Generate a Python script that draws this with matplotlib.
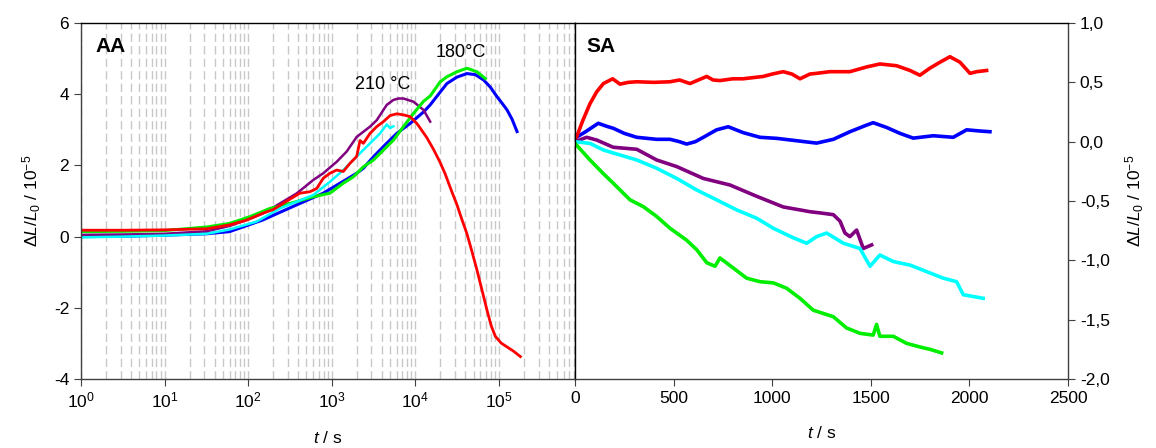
import matplotlib
matplotlib.use("Agg")
import matplotlib.pyplot as plt
from matplotlib.ticker import FixedLocator, FuncFormatter, LogLocator, NullFormatter

plt.rcParams['font.family'] = ['Liberation Sans', 'DejaVu Sans']
plt.rcParams['mathtext.fontset'] = 'custom'
plt.rcParams['mathtext.rm'] = 'Liberation Sans'
plt.rcParams['mathtext.it'] = 'Liberation Sans:italic'
plt.rcParams['mathtext.bf'] = 'Liberation Sans:bold'
plt.rcParams['axes.unicode_minus'] = False

# --- AA (isothermal ageing, log time) ---
aa_red_t = [1, 3.2, 10, 32, 60, 95, 151, 200, 316, 417, 550, 661, 794, 955, 1148, 1380,
            1660, 1995, 2188, 2399, 2884, 3467, 4169, 5012, 6026, 7244, 8710, 10470, 11480,
            13800, 16600, 19950, 22900, 26900, 31600, 36300, 41700, 47900, 55000, 63100,
            72400, 81300, 91200, 107000, 126000, 151000, 182000]
aa_red_v = [0.18, 0.18, 0.19, 0.22, 0.33, 0.46, 0.66, 0.76, 1.05, 1.22, 1.26, 1.35, 1.64, 1.78,
            1.87, 1.83, 2.06, 2.25, 2.70, 2.62, 2.90, 3.09, 3.23, 3.40, 3.45, 3.42, 3.37, 3.18,
            3.05, 2.78, 2.45, 2.08, 1.76, 1.32, 0.90, 0.48, 0.08, -0.42, -0.94, -1.50, -2.06,
            -2.50, -2.80, -2.99, -3.10, -3.22, -3.37]

aa_purple_t = [1, 3.2, 10, 32, 60, 105, 151, 240, 380, 603, 794, 1148, 1514, 1995, 2884,
               3467, 4571, 5495, 6310, 7244, 9550, 12590, 15140]
aa_purple_v = [0.05, 0.06, 0.08, 0.15, 0.30, 0.50, 0.65, 0.93, 1.21, 1.59, 1.78, 2.10, 2.39,
               2.80, 3.09, 3.27, 3.70, 3.84, 3.88, 3.88, 3.79, 3.56, 3.23]

aa_green_t = [1, 3.2, 10, 32, 60, 105, 182, 316, 603, 955, 1380, 1820, 2399, 3162, 4169,
              5495, 7244, 9550, 12590, 15140, 19950, 23990, 31620, 41690, 54950, 69180]
aa_green_v = [0.14, 0.15, 0.17, 0.27, 0.37, 0.56, 0.79, 0.93, 1.12, 1.22, 1.50, 1.68, 1.96,
              2.15, 2.43, 2.71, 3.09, 3.46, 3.80, 3.95, 4.35, 4.49, 4.63, 4.73, 4.63, 4.44]

aa_blue_t = [1, 3.2, 10, 32, 60, 151, 380, 794, 1259, 1995, 2399, 3162, 4169, 6026, 8710,
             12590, 15140, 23990, 31620, 41690, 52480, 66070, 79430, 95500, 109600, 125900,
             144500, 166000]
aa_blue_v = [0.00, 0.01, 0.04, 0.08, 0.14, 0.47, 0.89, 1.22, 1.50, 1.78, 1.92, 2.24, 2.53,
             2.90, 3.18, 3.50, 3.70, 4.30, 4.48, 4.58, 4.55, 4.40, 4.20, 3.93, 3.75, 3.56,
             3.30, 2.95]

aa_cyan_t = [1, 3.2, 10, 32, 60, 126, 240, 380, 603, 955, 1380, 1995, 2884, 3802, 4571,
             5012, 5495]
aa_cyan_v = [-0.02, 0.00, 0.03, 0.08, 0.20, 0.42, 0.79, 0.98, 1.17, 1.54, 1.87, 2.25, 2.62,
             2.90, 3.15, 3.05, 3.10]

# --- SA (linear time) ---
sa_red_t = [0, 8, 40, 76, 110, 144, 191, 228, 270, 313, 400, 482, 530, 583, 668, 700, 735,
            800, 852, 955, 1000, 1056, 1100, 1141, 1191, 1225, 1293, 1394, 1479, 1546, 1631,
            1699, 1749, 1800, 1851, 1901, 1952, 2003, 2037, 2087]
sa_red_v = [0.02, 0.04, 0.18, 0.32, 0.42, 0.49, 0.53, 0.485, 0.50, 0.505, 0.50, 0.505, 0.52,
            0.49, 0.55, 0.52, 0.515, 0.53, 0.53, 0.55, 0.57, 0.59, 0.57, 0.53, 0.57, 0.576,
            0.59, 0.59, 0.63, 0.655, 0.64, 0.60, 0.56, 0.62, 0.67, 0.716, 0.67, 0.576, 0.59,
            0.60]

sa_blue_t = [0, 50, 118, 160, 194, 250, 313, 414, 482, 530, 566, 610, 651, 718, 777, 853,
             938, 1023, 1124, 1225, 1310, 1394, 1479, 1512, 1580, 1648, 1715, 1817, 1918,
             1986, 2053, 2104]
sa_blue_v = [0.03, 0.08, 0.155, 0.13, 0.113, 0.07, 0.037, 0.02, 0.02, 0.0, -0.02, 0.0, 0.037,
             0.10, 0.126, 0.076, 0.037, 0.028, 0.008, -0.012, 0.02, 0.084, 0.14, 0.16, 0.12,
             0.07, 0.03, 0.05, 0.037, 0.10, 0.09, 0.084]

sa_purple_t = [0, 59, 110, 194, 313, 414, 516, 651, 786, 921, 1056, 1141, 1191, 1242, 1310,
               1344, 1369, 1394, 1428, 1462, 1504]
sa_purple_v = [0.0, 0.037, 0.014, -0.047, -0.064, -0.154, -0.21, -0.31, -0.365, -0.46, -0.55,
               -0.575, -0.59, -0.60, -0.615, -0.67, -0.77, -0.80, -0.745, -0.90, -0.87]

sa_cyan_t = [0, 76, 144, 228, 313, 414, 516, 617, 718, 820, 921, 1006, 1107, 1175, 1225,
             1276, 1361, 1445, 1496, 1546, 1614, 1699, 1783, 1867, 1935, 1969, 2020, 2070]
sa_cyan_v = [0.0, -0.014, -0.07, -0.112, -0.154, -0.224, -0.31, -0.407, -0.49, -0.575, -0.645,
             -0.73, -0.81, -0.856, -0.80, -0.77, -0.856, -0.90, -1.05, -0.955, -1.01, -1.04,
             -1.095, -1.15, -1.18, -1.29, -1.305, -1.32]

sa_green_t = [0, 76, 144, 194, 279, 346, 414, 482, 566, 617, 668, 710, 735, 803, 870, 938,
              1006, 1073, 1141, 1208, 1310, 1377, 1445, 1512, 1529, 1546, 1614, 1682, 1749,
              1800, 1859]
sa_green_v = [-0.014, -0.154, -0.27, -0.35, -0.49, -0.547, -0.63, -0.73, -0.83, -0.91, -1.02,
              -1.05, -0.98, -1.065, -1.15, -1.18, -1.19, -1.235, -1.32, -1.42, -1.475, -1.57,
              -1.615, -1.63, -1.54, -1.64, -1.64, -1.70, -1.73, -1.75, -1.78]

RED, BLUE, GREEN, CYAN, PURPLE = '#ff0000', '#0000ff', '#00ee00', '#00ffff', '#800080'
spine_c = '#404040'
fs = 12.5

fig = plt.figure(figsize=(11.56, 4.48), dpi=100)
axL = fig.add_axes([0.0701, 0.154, 0.4273, 0.7946])
axR = fig.add_axes([0.4974, 0.154, 0.4265, 0.7946])

# left panel
axL.plot(aa_blue_t, aa_blue_v, color=BLUE, lw=2.2)
axL.plot(aa_purple_t, aa_purple_v, color=PURPLE, lw=1.8)
axL.plot(aa_green_t, aa_green_v, color=GREEN, lw=2.2)
axL.plot(aa_cyan_t, aa_cyan_v, color=CYAN, lw=1.8)
axL.plot(aa_red_t, aa_red_v, color=RED, lw=2.0)
axL.set_xscale('log')
axL.set_xlim(1, 8.2e5)
axL.set_ylim(-4, 6)
axL.set_yticks([-4, -2, 0, 2, 4, 6])
axL.xaxis.set_major_locator(FixedLocator([1, 10, 100, 1e3, 1e4, 1e5]))
axL.xaxis.set_minor_locator(LogLocator(base=10, subs=range(2, 10), numticks=20))
axL.xaxis.set_minor_formatter(NullFormatter())
axL.grid(True, which='both', axis='x', color='#c8c8c8', lw=1.0, ls=(0, (6, 3)))
axL.set_axisbelow(True)
axL.tick_params(which='minor', length=0)
axL.tick_params(which='major', direction='out', length=5, labelsize=fs, color=spine_c)
axL.set_ylabel(r'$\mathit{\Delta L/L_0}$ / 10$^{-5}$', fontsize=fs, labelpad=8)
axL.set_xlabel(r'$\mathit{t}$ / s', fontsize=fs, labelpad=14)
axL.text(0.03, 0.933, 'AA', transform=axL.transAxes, fontsize=15, fontweight='bold',
         va='center', ha='left')
axL.text(4140, 4.26, '210 °C', fontsize=13, ha='center', va='center')
axL.text(35600, 5.16, '180°C', fontsize=13, ha='center', va='center')

# right panel
axR.plot(sa_blue_t, sa_blue_v, color=BLUE, lw=2.6)
axR.plot(sa_red_t, sa_red_v, color=RED, lw=2.6)
axR.plot(sa_purple_t, sa_purple_v, color=PURPLE, lw=2.6)
axR.plot(sa_cyan_t, sa_cyan_v, color=CYAN, lw=2.6)
axR.plot(sa_green_t, sa_green_v, color=GREEN, lw=2.6)
axR.set_xlim(0, 2500)
axR.set_ylim(-2, 1)
axR.set_xticks([0, 500, 1000, 1500, 2000, 2500])
axR.set_yticks([-2, -1.5, -1, -0.5, 0, 0.5, 1])
axR.yaxis.tick_right()
axR.yaxis.set_label_position('right')
axR.yaxis.set_major_formatter(FuncFormatter(lambda v, p: f'{v:.1f}'.replace('.', ',')))
axR.tick_params(direction='out', length=5, labelsize=fs, color=spine_c)
axR.set_ylabel(r'$\mathit{\Delta L/L_0}$ / 10$^{-5}$', fontsize=fs, labelpad=10)
axR.set_xlabel(r'$\mathit{t}$ / s', fontsize=fs, labelpad=14)
axR.text(0.024, 0.933, 'SA', transform=axR.transAxes, fontsize=15, fontweight='bold',
         va='center', ha='left')

for ax in (axL, axR):
    for s in ax.spines.values():
        s.set_color(spine_c)
        s.set_linewidth(1.0)
axL.spines['top'].set_color('black')
axR.spines['top'].set_color('black')
axR.spines['left'].set_color('black')

fig.savefig('out.png', dpi=100)
